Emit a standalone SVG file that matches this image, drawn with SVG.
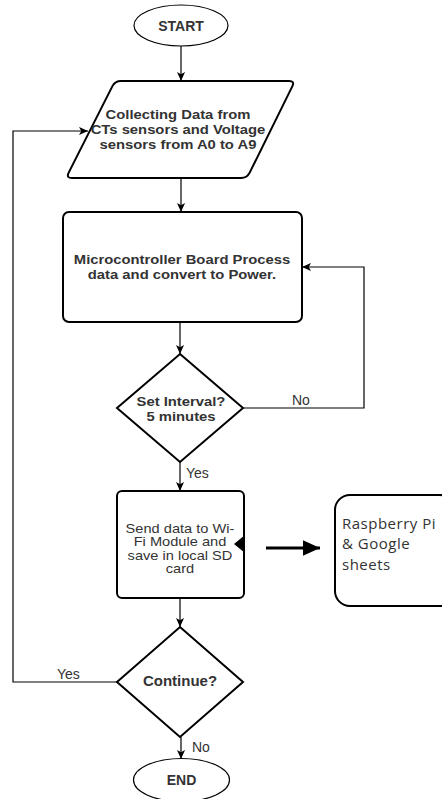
<svg xmlns="http://www.w3.org/2000/svg" width="442" height="799" viewBox="0 0 442 799">
<style>
.shape{fill:#fff;stroke:#000;stroke-width:2}
.ell{fill:#fff;stroke:#000;stroke-width:1.2}
.t{font-family:"Liberation Sans",Arial,sans-serif;font-size:15px;fill:#333;text-anchor:middle}
.b{font-weight:bold}
.s{font-size:12.5px}
.m{font-size:13px}
.lbl{font-family:"Liberation Sans",Arial,sans-serif;font-size:14px;fill:#333}
.rp{font-family:"Open Sans","DejaVu Sans",sans-serif;font-size:15px;letter-spacing:0.5px;fill:#333}
.c{fill:none;stroke:#000;stroke-width:1.2}
</style>
<defs>
<marker id="arr" viewBox="0 0 10 10" refX="10" refY="5" markerWidth="10" markerHeight="9" markerUnits="userSpaceOnUse" orient="auto">
<path d="M0,0.5 L10,5 L0,9.5 L2.5,5 Z" fill="#000"/>
</marker>
<marker id="big" viewBox="0 0 10 10" refX="10" refY="5" markerWidth="17" markerHeight="17" markerUnits="userSpaceOnUse" orient="auto">
<path d="M0,0.5 L10,5 L0,9.5 Z" fill="#000"/>
</marker>
</defs>
<g id="connectors">
<line class="c" x1="181" y1="46" x2="181" y2="81" marker-end="url(#arr)"/>
<line class="c" x1="181" y1="178" x2="181" y2="212" marker-end="url(#arr)"/>
<line class="c" x1="180" y1="322" x2="180" y2="354" marker-end="url(#arr)"/>
<polyline class="c" points="243,408 364,408 364,267 302,267" marker-end="url(#arr)"/>
<line class="c" x1="180" y1="462" x2="180" y2="491" marker-end="url(#arr)"/>
<line class="c" x1="180" y1="598" x2="180" y2="627" marker-end="url(#arr)"/>
<polyline class="c" points="117,682 13,682 13,131 88,131" marker-end="url(#arr)"/>
<line class="c" x1="181" y1="737" x2="181" y2="759" marker-end="url(#arr)"/>
<line x1="266" y1="548" x2="320" y2="548" stroke="#000" stroke-width="3" marker-end="url(#big)"/>
<text class="lbl" x="292" y="405">No</text>
<text class="lbl" x="186" y="478">Yes</text>
<text class="lbl" x="57" y="679">Yes</text>
<text class="lbl" x="192" y="752">No</text>
</g>
<g id="start">
<ellipse class="ell" cx="181" cy="25.5" rx="47" ry="20.5"/>
<text class="t b" x="181" y="31" style="font-size:14px">START</text>
</g>
<g id="collect">
<path class="shape" d="M121,81 L289,81 Q295,81 292.3,86.4 L249.7,172.6 Q247,178 241,178 L72,178 Q66,178 68.7,172.6 L112.3,86.4 Q115,81 121,81 Z"/>
<g transform="translate(178,0) scale(1.14,1) translate(-178,0)">
<text class="t b m" x="178" y="119.5">Collecting Data from</text>
<text class="t b m" x="178" y="134.5">CTs sensors and Voltage</text>
<text class="t b m" x="178" y="149.5">sensors from A0 to A9</text>
</g>
</g>
<g id="process">
<rect class="shape" x="63" y="212" width="239" height="110" rx="6"/>
<g transform="translate(182,0) scale(1.14,1) translate(-182,0)">
<text class="t b m" x="182" y="264">Microcontroller Board Process</text>
<text class="t b m" x="182" y="279">data and convert to Power.</text>
</g>
</g>
<g id="interval">
<polygon class="shape" points="180,354 243,408 180,462 117,408"/>
<g transform="translate(181,0) scale(1.14,1) translate(-181,0)">
<text class="t b m" x="181" y="406">Set Interval?</text>
<text class="t b m" x="181" y="421">5 minutes</text>
</g>
</g>
<g id="send">
<rect class="shape" x="117" y="491" width="127" height="107" rx="5"/>
<g transform="translate(180,0) scale(1.17,1) translate(-180,0)">
<text class="t s" x="180" y="533">Send data to Wi-</text>
<text class="t s" x="180" y="546.5">Fi Module and</text>
<text class="t s" x="180" y="560">save in local SD</text>
<text class="t s" x="180" y="573.5">card</text>
</g>
<polygon points="245,535 234,544 245,553" fill="#000"/>
</g>
<g id="raspberry">
<rect class="shape" x="335" y="495" width="120" height="111" rx="15"/>
<text class="rp" x="342" y="528.5">Raspberry Pi</text>
<text class="rp" x="342" y="549">&amp; Google</text>
<text class="rp" x="342" y="569.5">sheets</text>
</g>
<g id="continue">
<polygon class="shape" points="180,627 243,682 180,737 117,682"/>
<text class="t b" x="180" y="686">Continue?</text>
</g>
<g id="end">
<ellipse class="ell" cx="181.5" cy="780" rx="48" ry="21.5"/>
<text class="t b" x="181.5" y="785" style="font-size:14px">END</text>
</g>
</svg>
